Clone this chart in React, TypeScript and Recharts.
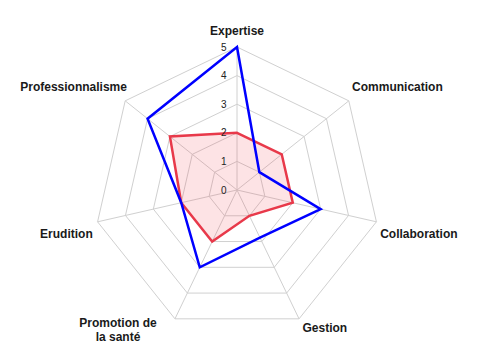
import React from "react";
import {
  RadarChart,
  Radar,
  PolarGrid,
  PolarAngleAxis,
  PolarRadiusAxis,
} from "recharts";

const categories = [
  "Expertise",
  "Communication",
  "Collaboration",
  "Gestion",
  "Promotion de la santé",
  "Erudition",
  "Professionnalisme",
];
const blueValues = [5, 1, 3, 1.85, 3, 2, 4];
const redValues = [2, 2, 2, 1, 2, 2, 3];
const radiusTicks = [0, 1, 2, 3, 4, 5];

const data = categories.map((name, i) => ({
  name,
  blue: blueValues[i],
  red: redValues[i],
}));

// label placement tweaks, per axis (dx, dy, anchor, lines)
const labelStyle = [
  { dx: 0, dy: -4.5, anchor: "middle", lines: ["Expertise"] },
  { dx: -3, dy: -4.5, anchor: "start", lines: ["Communication"] },
  { dx: -4, dy: 14, anchor: "start", lines: ["Collaboration"] },
  { dx: 0, dy: 5.5, anchor: "start", lines: ["Gestion"] },
  { dx: -53.5, dy: 0.5, anchor: "middle", lines: ["Promotion de", "la santé"] },
  { dx: 3, dy: 14, anchor: "end", lines: ["Erudition"] },
  { dx: 8, dy: -4.5, anchor: "end", lines: ["Professionnalisme"] },
];

const AngleTick = (props: any) => {
  const { x, y, index } = props;
  const s = labelStyle[index] || labelStyle[0];
  return (
    <text
      x={x + s.dx}
      y={y + s.dy}
      textAnchor={s.anchor}
      fontFamily="'Liberation Sans', Arial, sans-serif"
      fontSize={12}
      fontWeight="bold"
      fill="#1a1a1a"
    >
      {s.lines.map((line, i) => (
        <tspan key={i} x={x + s.dx} dy={i === 0 ? 0 : 14}>
          {line}
        </tspan>
      ))}
    </text>
  );
};

const RadiusTick = (props: any) => {
  const { x, y, payload } = props;
  return (
    <text
      x={x - 10.5}
      y={y + 3.5}
      textAnchor="end"
      fontFamily="'Liberation Sans', Arial, sans-serif"
      fontSize={10}
      fill="#222"
    >
      {payload.value}
    </text>
  );
};

export default function App() {
  return (
    <div
      style={{
        position: "absolute",
        left: 0,
        top: 0,
        width: 477,
        height: 355,
        background: "#fff",
      }}
    >
      <RadarChart
        width={477}
        height={355}
        data={data}
        cx={237}
        cy={190}
        outerRadius={143}
        margin={{ top: 0, right: 0, bottom: 0, left: 0 }}
      >
        <PolarGrid gridType="polygon" stroke="#d0d0d0" strokeWidth={1} />
        <PolarAngleAxis
          dataKey="name"
          tick={<AngleTick />}
          tickLine={false}
          axisLine={false}
        />
        <PolarRadiusAxis
          angle={90}
          domain={[0, 5]}
          ticks={radiusTicks}
          tickCount={6}
          axisLine={false}
          tickLine={false}
          tick={<RadiusTick />}
        />
        <Radar
          dataKey="red"
          stroke="#e8394a"
          strokeWidth={2.5}
          fill="#f04050"
          fillOpacity={0.15}
          dot={false}
          isAnimationActive={false}
        />
        <Radar
          dataKey="blue"
          stroke="#0000ff"
          strokeWidth={2.5}
          fill="none"
          fillOpacity={0}
          dot={false}
          isAnimationActive={false}
        />
      </RadarChart>
    </div>
  );
}
